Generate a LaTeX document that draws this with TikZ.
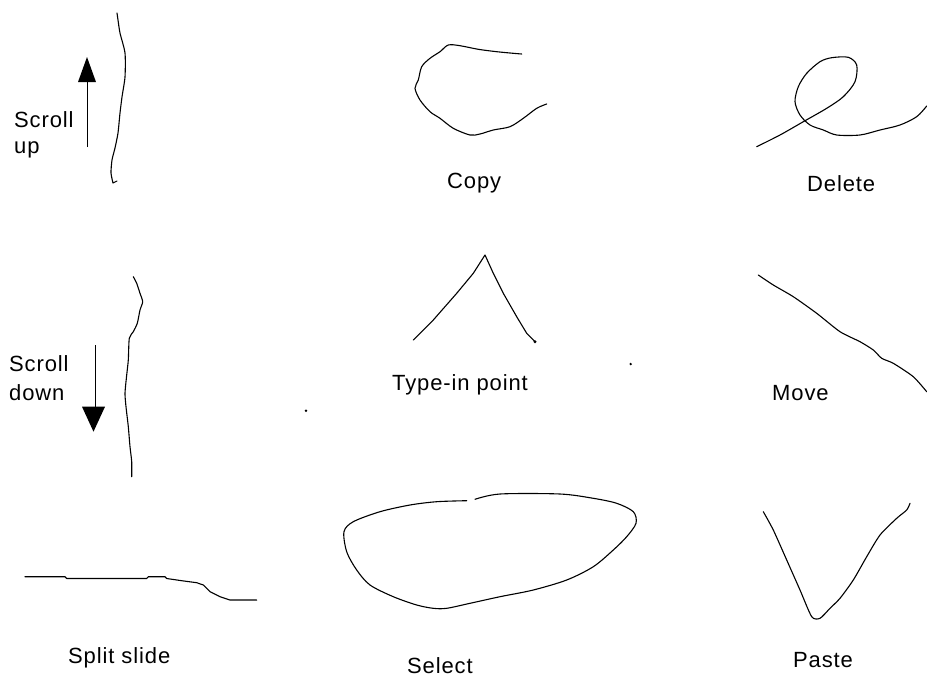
\documentclass[tikz,border=0pt]{standalone}
\usepackage{fontspec}
\setmainfont{Liberation Sans}[LetterSpace=4]
\begin{document}
\begin{tikzpicture}[x=1pt,y=-1pt,
  stroke/.style={line width=1.1pt,line join=round,line cap=round},
  lbl/.style={anchor=base west,inner sep=0pt,font=\fontsize{22}{26}\selectfont},
  arr/.style={line width=1pt}]
\useasboundingbox (0,0) rectangle (927,678);
% Scroll up
\draw[stroke] plot[smooth,tension=0.4] coordinates{(117,13)(118,20)(120,33)(125,53)(125,77)(122,97)(120,113)(118,133)(115,148)(112,160)(111,173)(113,183)} -- (117,181);
\draw[arr] (87,147) -- (87,80);
\fill (87,57) -- (78,82) -- (96,82) -- cycle;
\node[lbl] (su1) at (14,127) {Scroll};
\node[lbl] (su2) at (14,153) {up};
% Copy
\draw[stroke] plot[smooth,tension=0.5] coordinates{(521.7,54)(513.3,53.3)(496.7,51.7)(478.3,49.3)(460,45.7)(448.3,45)(440,51.7)(430,58.3)(421.7,66.7)(418.3,80)(415,88.3)(420,100)(430,111.7)(440,118.3)(453.3,128.3)(470,135)(480,134)(493.3,130)(510,126.7)(523.3,118.3)(536.7,108.3)(546.7,104)};
\node[lbl] (copy) at (447,188) {Copy};
% Delete
\draw[stroke] plot[smooth,tension=0.5] coordinates{(756.7,146.7)(780,135)(803.3,121.7)(826.7,108.3)(843.3,96.7)(855,81.7)(856.7,65)(848.3,57.3)(831.7,57.7)(820,61.7)(806.7,73.3)(798.3,86.7)(795,101.7)(800,115)(810,125)(823.3,130)(836.7,135)(860,135)(880,130)(900,125)(916.7,116.7)(926.7,106)};
\node[lbl] (delete) at (807,191) {Delete};
% Scroll down
\draw[stroke] plot[smooth,tension=0.4] coordinates{(133.3,276.7)(136.7,283.3)(140,293.3)(142.7,301.7)(140,310)(137.3,323.3)(133.3,331.7)(129.3,338.3)(128.3,360)(126.7,375)(125,393.3)(126,406.7)(128.3,426.7)(130,446.7)(131.7,461.7)(131.7,476.7)};
\draw[arr] (95.7,345) -- (95.7,409);
\fill (93.5,431.7) -- (82,406.7) -- (105,406.7) -- cycle;
\node[lbl] (sd1) at (9,371) {Scroll};
\node[lbl] (sd2) at (9,400) {down};
\fill (306,410.7) circle (1.3);
% Type-in point
\draw[stroke] (413.3,340) -- (433.3,320) -- (456.7,293.3) -- (473.3,273.3) -- (485,255) -- (493.3,273.3) -- (503.3,293.3) -- (516.7,316.7) -- (526.7,333.3) -- (535,341.7);
\fill (535,341.7) circle (1.6);
\node[lbl] (type) at (392,390) {Type-in point};
\fill (630.7,364) circle (1.3);
% Move
\draw[stroke] plot[smooth,tension=0.4] coordinates{(758.3,275)(773.3,285)(793.3,296.7)(816.7,313.3)(840,331.7)(860,341.7)(873.3,350)(881.7,358.3)(893.3,363.3)(913.3,376.7)(926.7,391.7)};
\node[lbl] (move) at (772,400) {Move};
% Split slide
\draw[stroke] (25,576.7) -- (65,576.7) -- (66.7,578.5) -- (146.7,578.5) -- (148.3,576.7) -- (165,576.7) -- (166.7,578.5) -- (181.7,580.7) -- (196.7,582.7) -- (203.3,585) -- (210,591.7) -- (220,596.7) -- (230,600) -- (256.7,600);
\node[lbl] (split) at (68,663) {Split slide};
% Select
\draw[stroke] plot[smooth,tension=0.5] coordinates{(475,499.3)(500,494)(560,494)(593.3,498.3)(616.7,503.3)(633.3,511.7)(636,523.3)(626.7,536.7)(613.3,550)(593.3,566.7)(566.7,580)(533.3,590)(500,596.7)(470,603.3)(446.7,608.3)(433.3,608.3)(416.7,605)(393.3,596.7)(370,585)(356.7,570)(346.7,551.7)(344,531.7)(353.3,521.7)(380,511.7)(410,505)(436.7,501.7)(466.7,500.7)};
\node[lbl] (select) at (407,673) {Select};
% Paste
\draw[stroke] plot[smooth,tension=0.4] coordinates{(763.3,511.7)(773.3,530)(786.7,560)(800,590)(811.7,616.7)(820,618.3)(830,608.3)(840,598.3)(853.3,580)(866.7,556.7)(880,535)(896.7,518.3)(906.7,510)(910,503.3)};
\node[lbl] (paste) at (793,667) {Paste};
\end{tikzpicture}
\end{document}
